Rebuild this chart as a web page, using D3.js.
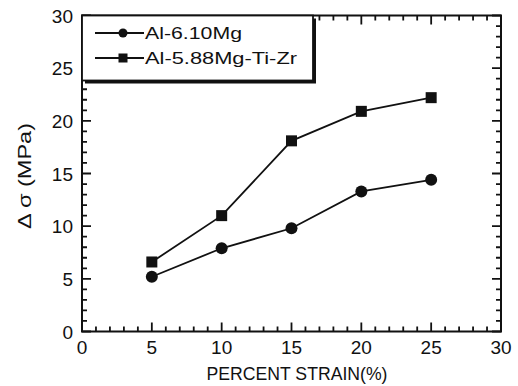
<!DOCTYPE html>
<html>
<head>
<meta charset="utf-8">
<script src="https://cdn.jsdelivr.net/npm/d3@7"></script>
<style>
  html, body { margin: 0; padding: 0; background: #fff; }
  svg text { font-family: "Liberation Sans", Arial, Helvetica, sans-serif; fill: #111; }
</style>
</head>
<body>
<svg id="chart" width="518" height="386"></svg>
<script>
// Strain levels (%) and stress increment values (MPa)
const strain = [5, 10, 15, 20, 25];
const alMg = [5.2, 7.9, 9.8, 13.3, 14.4];
const alMgTiZr = [6.6, 11.0, 18.1, 20.9, 22.2];
const seriesNames = ["Al-6.10Mg", "Al-5.88Mg-Ti-Zr"];
const xTicks = [0, 5, 10, 15, 20, 25, 30];
const yTicks = [0, 5, 10, 15, 20, 25, 30];

const svg = d3.select("#chart");
const m = { left: 82, right: 501, top: 15.5, bottom: 331.5 };

const x = d3.scaleLinear().domain([0, 30]).range([m.left, m.right]);
const y = d3.scaleLinear().domain([0, 30]).range([m.bottom, m.top]);

const ink = "#111";

// Frame
svg.append("rect")
  .attr("x", m.left).attr("y", m.top)
  .attr("width", m.right - m.left).attr("height", m.bottom - m.top)
  .attr("fill", "none").attr("stroke", ink).attr("stroke-width", 2);

// Tick labels
svg.append("g").selectAll("text").data(xTicks).join("text")
  .attr("x", d => x(d)).attr("y", m.bottom + 22)
  .attr("text-anchor", "middle").attr("font-size", 19)
  .text(d => d);
svg.append("g").selectAll("text").data(yTicks).join("text")
  .attr("x", m.left - 9).attr("y", d => y(d) + 7)
  .attr("text-anchor", "end").attr("font-size", 19)
  .text(d => d);

// Axis titles
svg.append("text")
  .attr("x", 297).attr("y", 380)
  .attr("text-anchor", "middle").attr("font-size", 18)
  .attr("textLength", 181).attr("lengthAdjust", "spacingAndGlyphs")
  .text("PERCENT STRAIN(%)");
svg.append("text")
  .attr("transform", "translate(31,176) rotate(-90)")
  .attr("text-anchor", "middle").attr("font-size", 18)
  .attr("textLength", 106).attr("lengthAdjust", "spacingAndGlyphs")
  .text("Δ σ (MPa)");

// Data lines and markers
const line = d3.line().x((d, i) => x(strain[i])).y(d => y(d));
const plot = svg.append("g");
[alMg, alMgTiZr].forEach(vals => {
  plot.append("path").datum(vals).attr("d", line)
    .attr("fill", "none").attr("stroke", ink).attr("stroke-width", 1.8);
});
plot.selectAll("circle.mg").data(alMg).join("circle")
  .attr("class", "mg")
  .attr("cx", (d, i) => x(strain[i])).attr("cy", d => y(d))
  .attr("r", 6).attr("fill", ink);
const sq = 11;
plot.selectAll("rect.tz").data(alMgTiZr).join("rect")
  .attr("class", "tz")
  .attr("x", (d, i) => x(strain[i]) - sq / 2).attr("y", d => y(d) - sq / 2)
  .attr("width", sq).attr("height", sq).attr("fill", ink);

// Inward ticks on all four sides: long at every 5, short at every 1
const tickPath = d3.path();
d3.range(0, 31, 1).forEach(v => {
  const L = v % 5 === 0 ? 9 : 5;
  tickPath.moveTo(x(v), m.bottom); tickPath.lineTo(x(v), m.bottom - L);
  tickPath.moveTo(x(v), m.top);    tickPath.lineTo(x(v), m.top + L);
  tickPath.moveTo(m.left, y(v));   tickPath.lineTo(m.left + L, y(v));
  tickPath.moveTo(m.right, y(v));  tickPath.lineTo(m.right - L, y(v));
});
svg.append("path")
  .attr("d", tickPath.toString())
  .attr("fill", "none").attr("stroke", "#111").attr("stroke-width", 1.8);

// Legend box with drop shadow
const lg = svg.append("g");
const lb = { x: m.left, y: m.top, w: 231, h: 65 };
lg.append("rect").attr("x", lb.x + 3).attr("y", lb.y + 3)
  .attr("width", lb.w).attr("height", lb.h).attr("fill", ink);
lg.append("rect").attr("x", lb.x).attr("y", lb.y)
  .attr("width", lb.w).attr("height", lb.h)
  .attr("fill", "#fff").attr("stroke", ink).attr("stroke-width", 1.8);

const rows = [33, 58];
const textLens = [97, 152];
rows.forEach((ry, i) => {
  lg.append("line").attr("x1", 95).attr("x2", 144).attr("y1", ry).attr("y2", ry)
    .attr("stroke", ink).attr("stroke-width", 1.8);
  if (i === 0) {
    lg.append("circle").attr("cx", 123).attr("cy", ry).attr("r", 4.5).attr("fill", ink);
  } else {
    lg.append("rect").attr("x", 123 - 4.5).attr("y", ry - 4.5)
      .attr("width", 9).attr("height", 9).attr("fill", ink);
  }
  lg.append("text").attr("x", 145).attr("y", ry + 6)
    .attr("font-size", 17)
    .attr("textLength", textLens[i]).attr("lengthAdjust", "spacingAndGlyphs")
    .text(seriesNames[i]);
});
</script>
</body>
</html>
